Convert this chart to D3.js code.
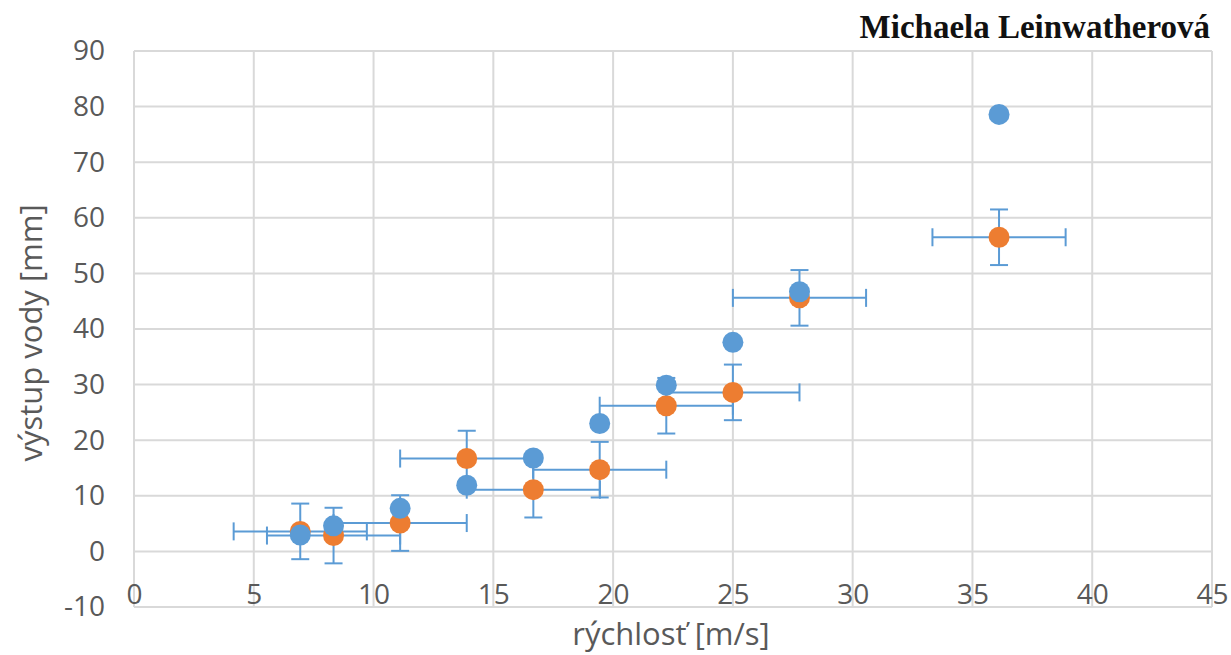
<!DOCTYPE html>
<html>
<head>
<meta charset="utf-8">
<script src="https://cdn.jsdelivr.net/npm/d3@7"></script>
<style>
    body { margin: 0; background: #fff; }
    svg { display: block; }
</style>
</head>
<body>
<script>
// speed in m/s, same for both series
var speeds = [6.94, 8.33, 11.11, 13.89, 16.67, 19.44, 22.22, 25.0, 27.78, 36.11];
// water rise [mm]
var blueValues = [2.95, 4.6, 7.75, 11.9, 16.8, 23.0, 29.9, 37.6, 46.7, 78.6];
var orangeValues = [3.6, 2.85, 5.1, 16.7, 11.1, 14.7, 26.2, 28.6, 45.6, 56.5];
// error bars (only on the orange series)
var xError = 2.78;
var yError = 5;
var xTicks = [0, 5, 10, 15, 20, 25, 30, 35, 40, 45];
var yTicks = [-10, 0, 10, 20, 30, 40, 50, 60, 70, 80, 90];

var W = 1231, H = 655;
var blue = "#5b9bd5", orange = "#ed7d31", grid = "#d9d9d9", label = "#595959";

var svg = d3.select("body").append("svg")
    .attr("width", W)
    .attr("height", H);

var x = d3.scaleLinear().domain([0, 45]).range([134, 1212]);
var y = d3.scaleLinear().domain([-10, 90]).range([607, 51]);

// gridlines
svg.append("g")
    .selectAll("line.v")
    .data(xTicks)
    .enter().append("line")
    .attr("x1", d => x(d)).attr("x2", d => x(d))
    .attr("y1", y(90)).attr("y2", y(-10))
    .style("stroke", grid).style("stroke-width", 2);

svg.append("g")
    .selectAll("line.h")
    .data(yTicks)
    .enter().append("line")
    .attr("x1", x(0)).attr("x2", x(45))
    .attr("y1", d => y(d)).attr("y2", d => y(d))
    .style("stroke", grid).style("stroke-width", 2);

// axes (labels only)
var yAxis = d3.axisLeft(y).tickValues(yTicks).tickSize(0).tickPadding(29)
    .tickFormat(d => String(d));
var gy = svg.append("g")
    .attr("transform", "translate(" + x(0) + ",0)")
    .call(yAxis);
gy.select(".domain").remove();
gy.selectAll("text")
    .style("font-family", "'Open Sans', sans-serif")
    .style("font-size", "28px")
    .style("fill", label);

var xAxis = d3.axisBottom(x).tickValues(xTicks).tickSize(0)
    .tickFormat(d => String(d));
var gx = svg.append("g")
    .attr("transform", "translate(0," + y(0) + ")")
    .call(xAxis);
gx.select(".domain").remove();
gx.selectAll("text")
    .attr("y", y(-10) - y(0) - 3)
    .attr("dy", 0)
    .style("font-family", "'Open Sans', sans-serif")
    .style("font-size", "28px")
    .style("fill", label);

// error bars
var cap = 9;
var eb = svg.append("g")
    .style("stroke", blue)
    .style("stroke-width", 2)
    .style("fill", "none");

speeds.forEach(function(s, i) {
    var v = orangeValues[i];
    // horizontal
    eb.append("line")
        .attr("x1", x(s - xError)).attr("x2", x(s + xError))
        .attr("y1", y(v)).attr("y2", y(v));
    eb.append("line")
        .attr("x1", x(s - xError)).attr("x2", x(s - xError))
        .attr("y1", y(v) - cap).attr("y2", y(v) + cap);
    eb.append("line")
        .attr("x1", x(s + xError)).attr("x2", x(s + xError))
        .attr("y1", y(v) - cap).attr("y2", y(v) + cap);
    // vertical
    eb.append("line")
        .attr("x1", x(s)).attr("x2", x(s))
        .attr("y1", y(v - yError)).attr("y2", y(v + yError));
    eb.append("line")
        .attr("x1", x(s) - cap).attr("x2", x(s) + cap)
        .attr("y1", y(v - yError)).attr("y2", y(v - yError));
    eb.append("line")
        .attr("x1", x(s) - cap).attr("x2", x(s) + cap)
        .attr("y1", y(v + yError)).attr("y2", y(v + yError));
});

// markers: orange first, blue on top
svg.append("g").selectAll("circle")
    .data(speeds)
    .enter().append("circle")
    .attr("cx", d => x(d))
    .attr("cy", (d, i) => y(orangeValues[i]))
    .attr("r", 10.5)
    .style("fill", orange);

svg.append("g").selectAll("circle")
    .data(speeds)
    .enter().append("circle")
    .attr("cx", d => x(d))
    .attr("cy", (d, i) => y(blueValues[i]))
    .attr("r", 10.5)
    .style("fill", blue);

// axis titles
svg.append("text")
    .text("rýchlosť [m/s]")
    .attr("x", 671)
    .attr("y", 645)
    .attr("text-anchor", "middle")
    .style("font-family", "'Open Sans', sans-serif")
    .style("font-size", "31px")
    .style("fill", label);

svg.append("text")
    .text("výstup vody [mm]")
    .attr("transform", "translate(42,333) rotate(-90)")
    .attr("text-anchor", "middle")
    .style("font-family", "'Open Sans', sans-serif")
    .style("font-size", "31px")
    .style("fill", label);

// author
svg.append("text")
    .text("Michaela Leinwatherová")
    .attr("x", 1210)
    .attr("y", 38)
    .attr("text-anchor", "end")
    .style("font-family", "'Liberation Serif', serif")
    .style("font-weight", "bold")
    .style("font-size", "33px")
    .style("fill", "#111");
</script>
</body>
</html>
